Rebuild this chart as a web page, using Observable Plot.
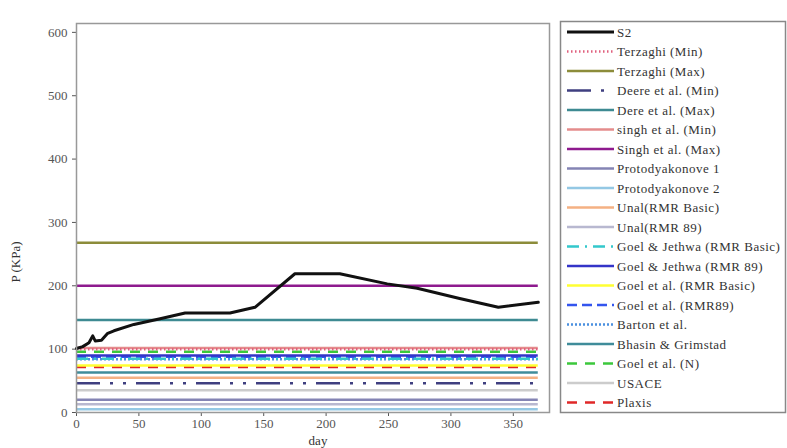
<!DOCTYPE html>
<html><head><meta charset="utf-8">
<script src="https://cdn.jsdelivr.net/npm/d3@7"></script>
<script src="https://cdn.jsdelivr.net/npm/@observablehq/plot@0.6"></script>
<style>
body{margin:0;background:#fff}
#wrap{position:relative;width:787px;height:448px;font-family:"Liberation Serif",serif;overflow:hidden}
#wrap svg{position:absolute;left:0;top:0}
.ylab{position:absolute;left:16px;top:262px;transform:translate(-50%,-50%) rotate(-90deg);font-size:13px;color:#333;white-space:nowrap}
</style>
</head><body><div id="wrap"></div>
<script>
// S2 measured series
const days = [0, 5, 10, 13, 15, 20, 25, 30, 46, 67, 87, 123, 143, 175, 211, 249, 273, 307, 338, 370];
const s2   = [101, 104, 110, 121, 113, 114, 125, 129, 139, 148, 157, 157, 166, 219, 219, 203, 196, 180, 166, 174];

// Constant predictions (horizontal lines)
const refNames = ["Terzaghi (Min)", "Terzaghi (Max)", "Deere et al. (Min)", "Dere et al. (Max)", "singh et al. (Min)", "Singh et al. (Max)", "Protodyakonove 1", "Protodyakonove 2", "Unal(RMR Basic)", "Unal(RMR 89)", "Goel & Jethwa (RMR Basic)", "Goel & Jethwa (RMR 89)", "Goel et al. (RMR Basic)", "Goel et al. (RMR89)", "Barton et al.", "Bhasin & Grimstad", "Goel et al. (N)", "USACE", "Plaxis"];
const refValues = [100, 268, 46, 146, 102, 200, 20, 5, 55, 13, 85, 90, 74, 88, 84, 63, 96, 35, 72];

const xTicks = [0, 50, 100, 150, 200, 250, 300, 350];
const yTicks = [0, 100, 200, 300, 400, 500, 600];

// styles (not data)
const refColors = ["#e0607e", "#8c8c3a", "#3f3f80", "#3e8a92", "#e48c8c", "#8e1a8e", "#8484b4", "#94c8e4", "#f4b183", "#b8b8d0", "#33c8cc", "#3434c8", "#ffff33", "#3355ee", "#4a90e0", "#3f8c9a", "#3cc83c", "#cccccc", "#e02828"];
const refDash = ["1.5,2.5", null, "24,10,3,10,3,10", null, null, null, null, null, null, null, "12,6,2,6", null, null, "10,5", "2,2", null, "10,8", null, "10,8"];

const refs = refNames.map((n, i) => ({name: n, value: refValues[i]}));
const s2data = days.map((d, i) => ({day: d, p: s2[i]}));

const marks = [];
for (let i = refs.length - 1; i >= 0; i--) {
  marks.push(Plot.ruleY([refs[i]], {y: "value", x1: 0, x2: 370, stroke: refColors[i], strokeWidth: 2.5, strokeDasharray: refDash[i] || undefined}));
}
marks.push(Plot.line(s2data, {x: "day", y: "p", stroke: "#111", strokeWidth: 3}));
marks.push(Plot.frame({stroke: "#999", strokeWidth: 1.5}));

const plot = Plot.plot({
  width: 787, height: 448,
  marginLeft: 76, marginRight: 238, marginTop: 23, marginBottom: 36,
  style: {fontFamily: "Liberation Serif, serif", fontSize: "13px", color: "#555", background: "transparent"},
  x: {domain: [0, 379], ticks: xTicks, tickSize: 4, tickPadding: 2, label: null},
  y: {domain: [0, 614], ticks: yTicks, tickSize: 4, label: null},
  marks
});
const wrap = document.getElementById("wrap");
wrap.appendChild(plot);

// axis titles
const xl = document.createElement("div");
xl.textContent = "day";
xl.style.cssText = "position:absolute;left:318px;top:440px;transform:translate(-50%,-50%);font-size:13px;color:#333;line-height:13px";
wrap.appendChild(xl);
const yl = document.createElement("div");
yl.className = "ylab"; yl.textContent = "P (KPa)";
wrap.appendChild(yl);

// legend
const allNames = ["S2", ...refNames];
const allColors = ["#111", ...refColors];
const allDash = [null, ...refDash];
const svg = d3.select(wrap).append("svg").attr("width", 787).attr("height", 448).style("pointer-events", "none");
svg.append("rect").attr("x", 560.5).attr("y", 21.5).attr("width", 225).attr("height", 391)
  .attr("fill", "none").attr("stroke", "#888").attr("stroke-width", 1.5);
allNames.forEach((n, i) => {
  const y = 32 + i * 19.5;
  svg.append("line").attr("x1", 567).attr("x2", 614).attr("y1", y).attr("y2", y)
    .attr("stroke", allColors[i]).attr("stroke-width", i === 0 ? 3 : 2.5)
    .attr("stroke-dasharray", allDash[i] || null);
  svg.append("text").attr("x", 617).attr("y", y).attr("dy", "0.35em")
    .attr("font-family", "Liberation Serif, serif").attr("font-size", 13).attr("letter-spacing", 0.5).attr("fill", "#333")
    .text(n);
});
</script>
</body></html>
